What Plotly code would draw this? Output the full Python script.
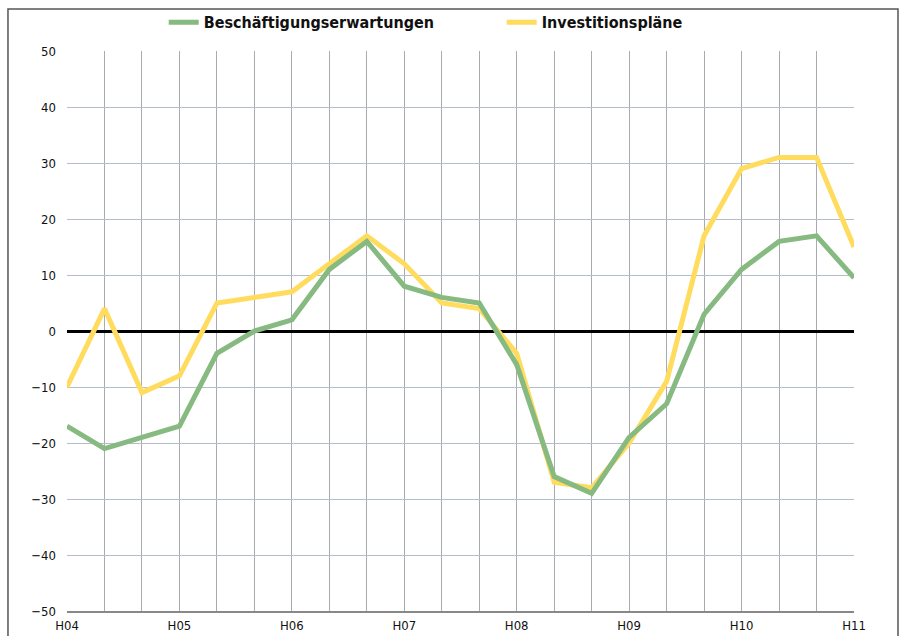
import plotly.graph_objects as go

periods = ["H04", "", "", "H05", "", "", "H06", "", "", "H07", "", "",
           "H08", "", "", "H09", "", "", "H10", "", "", "H11"]
beschaeftigung = [-17, -21, -19, -17, -4, 0, 2, 11, 16, 8, 6, 5,
                  -6, -26, -29, -19, -13, 3, 11, 16, 17, 9.5]
investition = [-10, 4, -11, -8, 5, 6, 7, 12, 17, 12, 5, 4,
               -4, -27, -28, -20, -9, 17, 29, 31, 31, 15]
yticks = [-50, -40, -30, -20, -10, 0, 10, 20, 30, 40, 50]

xs = list(range(len(periods)))

fig = go.Figure()
fig.add_trace(go.Scatter(x=xs, y=investition, mode="lines", name="Investitionspläne",
                         line=dict(color="#FFDC5E", width=5), legendrank=2))
fig.add_trace(go.Scatter(x=xs, y=beschaeftigung, mode="lines", name="Beschäftigungserwartungen",
                         line=dict(color="#86BA80", width=5), legendrank=1))

fig.add_shape(type="rect", xref="paper", yref="paper",
              x0=-0.075, x1=1.0559, y0=-0.06, y1=1.075,
              line=dict(color="#555555", width=1.5), layer="below")

fig.update_layout(
    width=904, height=636,
    margin=dict(l=67, r=50, t=51, b=25, autoexpand=False),
    paper_bgcolor="white", plot_bgcolor="white",
    font=dict(family="DejaVu Sans Condensed", size=12, color="#111111"),
    legend=dict(orientation="h", xref="container", yref="container",
                x=0.555, xanchor="center", y=0.965, yanchor="middle",
                font=dict(size=16, family="DejaVu Sans Condensed", weight="bold"),
                traceorder="normal", entrywidth=293, bgcolor="rgba(0,0,0,0)"),
    xaxis=dict(range=[0, len(periods) - 1], tickvals=xs, ticktext=periods,
               showgrid=True, gridcolor="#A8ACB2", gridwidth=1, automargin=False,
               zeroline=False, showline=True, linecolor="#888888", linewidth=1.5,
               ticks="", ticklabelstandoff=2, tickfont=dict(size=13), fixedrange=True),
    yaxis=dict(range=[-50, 50], tickvals=yticks, automargin=False,
               showgrid=True, gridcolor="#B4BDCD", gridwidth=1,
               zeroline=True, zerolinecolor="#000000", zerolinewidth=2.5,
               showline=False, ticks="", ticklabelstandoff=10,
               tickfont=dict(size=13), fixedrange=True),
    showlegend=True,
)

fig.write_html("out.html", config={"displayModeBar": False},
               post_script="document.body.style.margin='0';")
